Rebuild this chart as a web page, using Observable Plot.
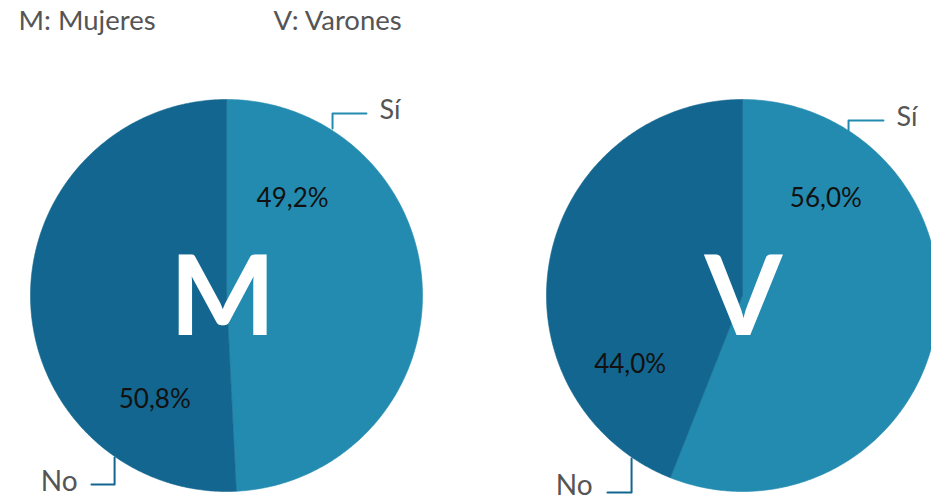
<!DOCTYPE html>
<html>
<head>
<meta charset="utf-8">
<script src="https://cdn.jsdelivr.net/npm/d3@7"></script>
<script src="https://cdn.jsdelivr.net/npm/@observablehq/plot@0.6"></script>
<style>
  html, body { margin: 0; padding: 0; background: #fff; }
  svg { font-family: Lato, "Open Sans", sans-serif; display: block; }
</style>
</head>
<body>
<div id="chart"></div>
<script>
// ---- data ----
const groups = ["M", "V"];
const groupNames = ["Mujeres", "Varones"];
const categories = ["Sí", "No"];
const siValues = [49.2, 56.0];
const noValues = [50.8, 44.0];
const colors = ["#238bb0", "#13668f"];

// ---- layout (radius units, pie radius = 1) ----
const W = 931, H = 502, Rpx = 196;
const centersPx = [[226, 295], [742, 295]];
const cx = centersPx.map(c => (c[0] - centersPx[0][0]) / Rpx);
const cy = 0;
const xDomain = [-centersPx[0][0] / Rpx, (W - centersPx[0][0]) / Rpx];
const yDomain = [-(H - centersPx[0][1]) / Rpx, centersPx[0][1] / Rpx];

// percent label offsets from centre
const pctOffsets = [
  [[0.337, 0.495], [-0.366, -0.530]],
  [[0.425, 0.495], [-0.573, -0.352]]
];
// connector geometry relative to centre: [edge, corner, end], text pos
const connectors = [
  [
    {pts: [[0.541, 0.852], [0.541, 0.929], [0.714, 0.929]], text: [0.78, 0.944], anchor: "start"},
    {pts: [[-0.571, -0.827], [-0.571, -0.964], [-0.689, -0.964]], text: [-0.76, -0.954], anchor: "end"}
  ],
  [
    {pts: [[0.541, 0.842], [0.541, 0.893], [0.719, 0.893]], text: [0.786, 0.908], anchor: "start"},
    {pts: [[-0.566, -0.832], [-0.566, -1.005], [-0.689, -1.005]], text: [-0.765, -0.972], anchor: "end"}
  ]
];

function fmt(v) { return v.toFixed(1).replace(".", ",") + "%"; }

// build slice polygons
const slices = [];
groups.forEach((g, gi) => {
  const vals = [siValues[gi], noValues[gi]];
  const total = d3.sum(vals);
  let a0 = 0;
  vals.forEach((v, ci) => {
    const a1 = a0 + (v / total) * 2 * Math.PI;
    const n = Math.max(2, Math.ceil((a1 - a0) / 0.01));
    const pts = [{x: cx[gi], y: cy}];
    for (let i = 0; i <= n; i++) {
      const a = a0 + (a1 - a0) * i / n;
      pts.push({x: cx[gi] + Math.sin(a), y: cy + Math.cos(a)});
    }
    pts.push({x: cx[gi], y: cy});
    slices.push({g, ci, pts});
    a0 = a1;
  });
});

const sliceMarks = slices.map(s =>
  Plot.line(s.pts, {x: "x", y: "y", fill: colors[s.ci], stroke: colors[s.ci], strokeWidth: 0.6, curve: "linear"})
);

const pctData = [];
const catLabels = [];
const connLines = [];
groups.forEach((g, gi) => {
  const vals = [siValues[gi], noValues[gi]];
  vals.forEach((v, ci) => {
    const o = pctOffsets[gi][ci];
    pctData.push({x: cx[gi] + o[0], y: cy + o[1], t: fmt(v)});
    const c = connectors[gi][ci];
    connLines.push({ci, pts: c.pts.map(p => ({x: cx[gi] + p[0], y: cy + p[1]}))});
    catLabels.push({x: cx[gi] + c.text[0], y: cy + c.text[1], t: categories[ci], anchor: c.anchor});
  });
});

const connMarks = connLines.map(c =>
  Plot.line(c.pts, {x: "x", y: "y", stroke: colors[c.ci], strokeWidth: 2})
);

const letters = groups.map((g, gi) => ({x: cx[gi] - 0.02 + gi * 0.025, y: cy, t: g}));

const chart = Plot.plot({
  width: W,
  height: H,
  margin: 0,
  x: {domain: xDomain, axis: null},
  y: {domain: yDomain, axis: null},
  style: {fontFamily: "Lato, sans-serif", background: "#fff"},
  marks: [
    ...sliceMarks,
    ...connMarks,
    Plot.text(pctData, {x: "x", y: "y", text: "t", fontSize: 26, fill: "#111", textAnchor: "middle", lineAnchor: "middle"}),
    Plot.text(catLabels.filter(d => d.anchor === "start"), {x: "x", y: "y", text: "t", fontSize: 27, fill: "#555", textAnchor: "start", lineAnchor: "middle"}),
    Plot.text(catLabels.filter(d => d.anchor === "end"), {x: "x", y: "y", text: "t", fontSize: 28, fill: "#555", textAnchor: "end", lineAnchor: "middle"}),
    Plot.text(letters, {x: "x", y: "y", text: "t", fontSize: 112, fontWeight: "bold", fill: "#fff", textAnchor: "middle", lineAnchor: "middle", dy: 4}),
    Plot.text([groups[0] + ": " + groupNames[0]], {frameAnchor: "top-left", dx: 18, dy: 21, text: d => d, fontSize: 27.5, fill: "#555", textAnchor: "start", lineAnchor: "middle"}),
    Plot.text([groups[1] + ": " + groupNames[1]], {frameAnchor: "top-left", dx: 273, dy: 21, text: d => d, fontSize: 27.5, fill: "#555", textAnchor: "start", lineAnchor: "middle"})
  ]
});
document.getElementById("chart").appendChild(chart);
</script>
</body>
</html>
